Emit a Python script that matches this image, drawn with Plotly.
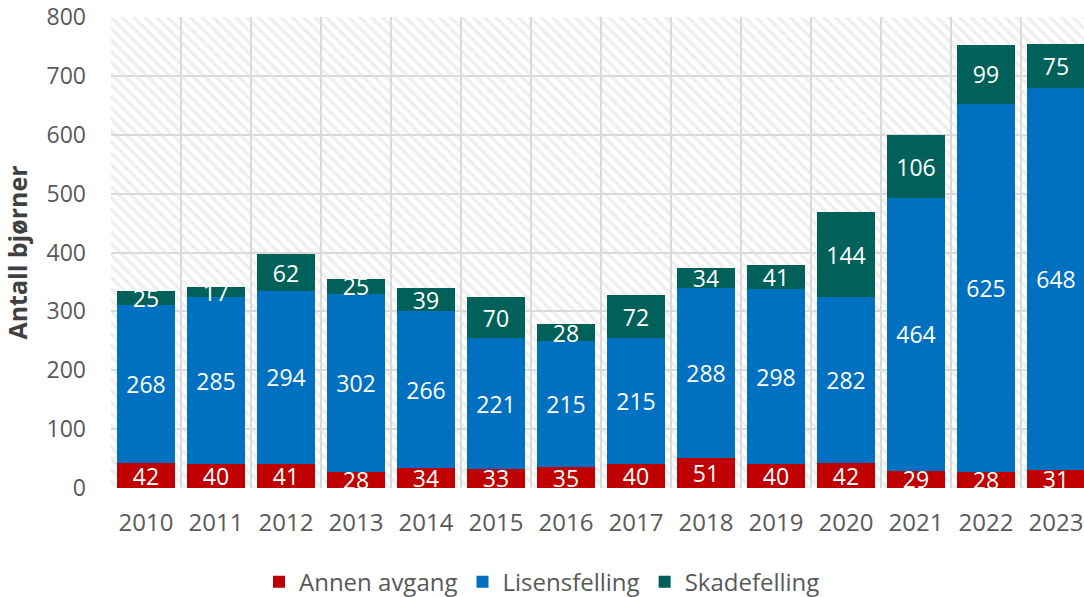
import plotly.graph_objects as go

years = ["2010","2011","2012","2013","2014","2015","2016","2017","2018","2019","2020","2021","2022","2023"]
annen = [42,40,41,28,34,33,35,40,51,40,42,29,28,31]
lisens = [268,285,294,302,266,221,215,215,288,298,282,464,625,648]
skade = [25,17,62,25,39,70,28,72,34,41,144,106,99,75]
y_max = 800
y_ticks = [0,100,200,300,400,500,600,700,800]

FONT = "Open Sans"
fig = go.Figure()

# hatched plot background
fig.add_trace(go.Bar(
    x=years, y=[y_max]*len(years), width=[1]*len(years),
    marker=dict(color="rgba(255,255,255,0)", line=dict(width=0),
                pattern=dict(shape="\\", size=8, solidity=0.4, fgcolor="#dedede", fillmode="overlay")),
    showlegend=False, hoverinfo="skip", xaxis="x", yaxis="y"))

series = [("Annen avgang", annen, "#C00000"),
          ("Lisensfelling", lisens, "#0070C0"),
          ("Skadefelling", skade, "#00615A")]
for name, vals, col in series:
    fig.add_trace(go.Bar(
        x=years, y=vals, name=name, marker=dict(color=col, line=dict(width=0)),
        text=[str(v) for v in vals], textposition="inside", insidetextanchor="middle",
        constraintext="none", textangle=0,
        textfont=dict(color="white", size=23, family=FONT),
        xaxis="x", yaxis="y2"))

fig.update_layout(
    width=1084, height=597,
    margin=dict(l=111, r=0, t=17, b=109),
    paper_bgcolor="white", plot_bgcolor="white",
    barmode="stack", bargap=0.18,
    font=dict(family=FONT, size=23, color="#595959"),
    xaxis=dict(type="category", tickson="boundaries", showgrid=True, gridcolor="#d9d9d9", gridwidth=2,
               range=[-0.5, 13.4], ticks="", tickfont=dict(size=24, color="#595959"),
               ticklabelstandoff=18, zeroline=False, showline=False),
    yaxis=dict(range=[0, y_max], tickvals=y_ticks, showgrid=True, gridcolor="#d9d9d9", gridwidth=2,
               zeroline=False, ticks="", tickfont=dict(size=23, color="#595959"), ticklabelstandoff=24,
               title=dict(text="Antall bjørner", font=dict(size=25, color="#404040", family=FONT, weight="bold"), standoff=12)),
    yaxis2=dict(range=[0, y_max], overlaying="y", showgrid=False, showticklabels=False, zeroline=False, ticks=""),
    legend=dict(orientation="h", xref="container", yref="container", x=0.5, xanchor="center",
                y=0.025, yanchor="middle", font=dict(size=24, color="#595959"), itemwidth=30,
                traceorder="normal"),
)

fig.write_html("out.html", config={"displayModeBar": False},
               post_script="document.body.style.margin='0';document.body.style.overflow='hidden';")
